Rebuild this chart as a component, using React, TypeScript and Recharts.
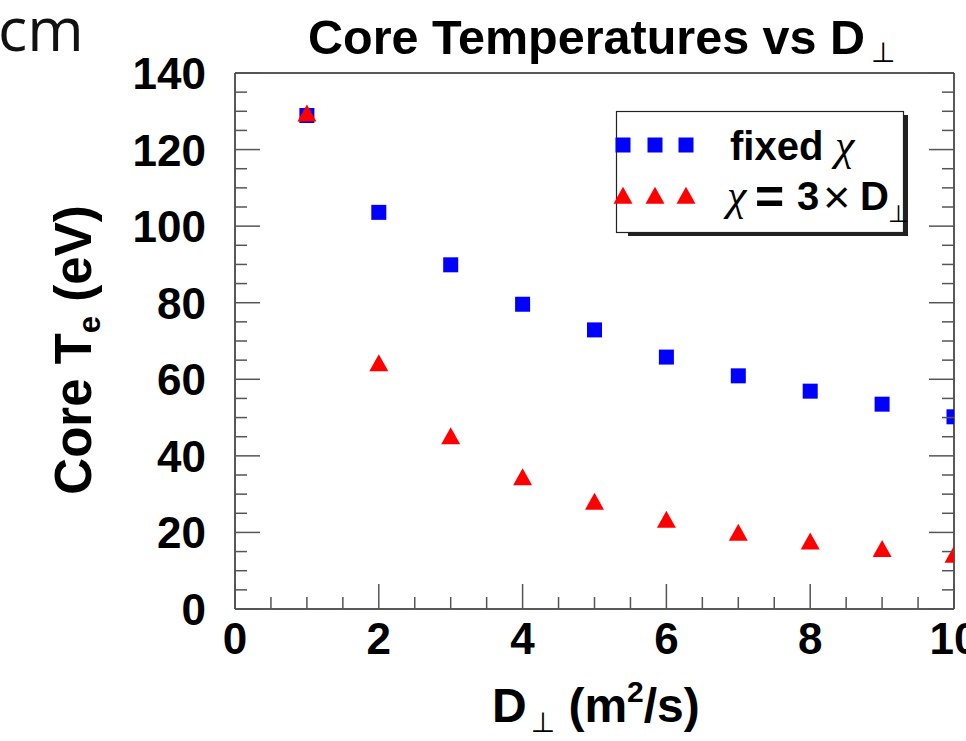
import React from "react"
import { ScatterChart, Scatter, XAxis, YAxis, Legend } from "recharts"

// D_perp scan (m^2/s) and the resulting core electron temperature (eV)
const dPerp = [1, 2, 3, 4, 5, 6, 7, 8, 9, 10]
const teFixedChi = [128.9, 103.6, 89.9, 79.6, 72.9, 65.8, 60.9, 56.9, 53.5, 50.2]
const teScaledChi = [128.8, 63.6, 44.5, 33.8, 27.4, 22.7, 19.3, 17.0, 15.1, 13.6]

const xTicks = [0, 0.5, 1, 1.5, 2, 2.5, 3, 3.5, 4, 4.5, 5, 5.5, 6, 6.5, 7, 7.5, 8, 8.5, 9, 9.5, 10]
const xLabelled = [0, 2, 4, 6, 8, 10]
const yTicks = [0, 5, 10, 15, 20, 25, 30, 35, 40, 45, 50, 55, 60, 65, 70, 75, 80, 85, 90, 95, 100, 105, 110, 115, 120, 125, 130, 135, 140]
const yLabelled = [0, 20, 40, 60, 80, 100, 120, 140]

const fixedData = dPerp.map((d, i) => ({ d, te: teFixedChi[i] }))
const scaledData = dPerp.map((d, i) => ({ d, te: teScaledChi[i] }))

const FONT = "'Liberation Sans', Arial, Helvetica, sans-serif"
const SERIF = "'Liberation Serif', 'Times New Roman', serif"
const SYMBOL = "'DejaVu Sans', sans-serif"
const FRAME = "#222"
const TICK = "#555"
const BLUE = "#0000ff"
const RED = "#ff0000"
const MAJOR = 25
const MINOR = 12

function BottomTick({ x, y, payload }: any) {
  const major = xLabelled.includes(payload.value)
  return (
    <g>
      <line x1={x} x2={x} y1={y} y2={y - (major ? MAJOR : MINOR)} stroke={TICK} strokeWidth={1.5} />
      {major && (
        <text x={x} y={y + 45} textAnchor="middle" fontFamily={FONT} fontWeight="bold" fontSize={44} fill="#000">
          {payload.value}
        </text>
      )}
    </g>
  )
}

function TopTick({ x, y, payload }: any) {
  const major = xLabelled.includes(payload.value)
  return <line x1={x} x2={x} y1={y} y2={y + (major ? MAJOR : MINOR)} stroke={TICK} strokeWidth={1.5} />
}

function LeftTick({ x, y, payload }: any) {
  const major = yLabelled.includes(payload.value)
  return (
    <g>
      <line x1={x} x2={x + (major ? MAJOR : MINOR)} y1={y} y2={y} stroke={TICK} strokeWidth={1.5} />
      {major && (
        <text x={x - 29} y={y + 16} textAnchor="end" fontFamily={FONT} fontWeight="bold" fontSize={44} fill="#000">
          {payload.value}
        </text>
      )}
    </g>
  )
}

function RightTick({ x, y, payload }: any) {
  const major = yLabelled.includes(payload.value)
  return <line x1={x} x2={x - (major ? MAJOR : MINOR)} y1={y} y2={y} stroke={TICK} strokeWidth={1.5} />
}

function SquareMark({ cx, cy }: any) {
  return <rect x={cx - 7.5} y={cy - 7.5} width={15} height={15} fill={BLUE} />
}

function TriangleMark({ cx, cy }: any) {
  return <polygon points={`${cx},${cy - 11.3} ${cx - 9.5},${cy + 5.7} ${cx + 9.5},${cy + 5.7}`} fill={RED} />
}

function ChartTitle({ viewBox }: any) {
  return (
    <text x={viewBox.x + 73} y={54} fontFamily={FONT} fontWeight="bold" fontSize={48.5} fill="#000">
      Core Temperatures vs D
      <tspan dx={6} dy={8} fontSize={28} fontWeight="normal" fontFamily={SYMBOL}>⊥</tspan>
    </text>
  )
}

function XTitle({ viewBox }: any) {
  return (
    <text x={viewBox.x + 257} y={viewBox.y + 113} fontFamily={FONT} fontWeight="bold" fontSize={48} fill="#000">
      D
      <tspan dx={4} dy={10} fontSize={28} fontWeight="normal" fontFamily={SYMBOL}>⊥</tspan>
      <tspan dy={-10}> (m</tspan>
      <tspan dy={-20} fontSize={30}>2</tspan>
      <tspan dy={20}>/s)</tspan>
    </text>
  )
}

function YTitle({ viewBox }: any) {
  const cy = viewBox.y + viewBox.height / 2 + 9
  return (
    <text transform={`translate(91, ${cy}) rotate(-90)`} textAnchor="middle" fontFamily={FONT} fontWeight="bold" fontSize={51} fill="#000">
      Core T
      <tspan dy={9} fontSize={31}>e</tspan>
      <tspan dy={-9}> (eV)</tspan>
    </text>
  )
}

function LegendBox() {
  const markerX = [7, 39, 70]
  return (
    <svg width={296} height={128} style={{ overflow: "visible" }}>
      <rect x={12} y={4} width={280} height={121} fill="#222" />
      <rect x={0.5} y={0.5} width={287} height={121} fill="#fff" stroke={FRAME} strokeWidth={1.2} />
      {markerX.map((mx) => (
        <SquareMark key={`s${mx}`} cx={mx} cy={34} />
      ))}
      {markerX.map((mx) => (
        <TriangleMark key={`t${mx}`} cx={mx} cy={87} />
      ))}
      <text x={114} y={49} fontFamily={FONT} fontWeight="bold" fontSize={40} fill="#000">
        fixed
        <tspan x={219} fontFamily={SERIF} fontStyle="italic" fontWeight="normal" fontSize={44}>χ</tspan>
      </text>
      <text y={99} fontFamily={FONT} fontWeight="bold" fontSize={40} fill="#000">
        <tspan x={111} fontFamily={SERIF} fontStyle="italic" fontWeight="normal" fontSize={44}>χ</tspan>
        <tspan x={139} dy={4} fontSize={50}>=</tspan>
        <tspan x={181} dy={-4}>3</tspan>
        <tspan x={207} dy={3} fontSize={47} fontWeight="normal">×</tspan>
        <tspan x={244} dy={-3}>D</tspan>
        <tspan x={272} dy={12} fontSize={24} fontWeight="normal" fontFamily={SYMBOL}>⊥</tspan>
      </text>
    </svg>
  )
}

export default function App() {
  const frameLine = { stroke: FRAME, strokeWidth: 1.5 }
  return (
    <div style={{ position: "relative", width: 966, height: 741, overflow: "hidden", background: "#fff" }}>
      <style>{`body { margin: 0; }`}</style>
      <svg width={140} height={70} style={{ position: "absolute", left: 0, top: 0 }}>
        <text x={-2} y={51} fontFamily="'Open Sans', 'Noto Sans', sans-serif" fontSize={61} fill="#111">
          cm
        </text>
      </svg>
      <ScatterChart width={966} height={741} margin={{ top: 0, right: 0, bottom: 0, left: 0 }}>
        <XAxis
          xAxisId="bottom"
          type="number"
          dataKey="d"
          domain={[0, 10]}
          ticks={xTicks}
          interval={0}
          tickSize={0}
          tickMargin={0}
          tickLine={false}
          tick={<BottomTick />}
          axisLine={frameLine}
          height={132}
          allowDataOverflow
          label={{ content: XTitle }}
        />
        <XAxis
          xAxisId="top"
          orientation="top"
          type="number"
          domain={[0, 10]}
          ticks={xTicks}
          interval={0}
          tickSize={0}
          tickMargin={0}
          tickLine={false}
          tick={<TopTick />}
          axisLine={frameLine}
          height={73}
          allowDataOverflow
          label={{ content: ChartTitle }}
        />
        <YAxis
          yAxisId="left"
          type="number"
          dataKey="te"
          domain={[0, 140]}
          ticks={yTicks}
          interval={0}
          tickSize={0}
          tickMargin={0}
          tickLine={false}
          tick={<LeftTick />}
          axisLine={frameLine}
          width={235}
          allowDataOverflow
          label={{ content: YTitle }}
        />
        <YAxis
          yAxisId="right"
          orientation="right"
          type="number"
          domain={[0, 140]}
          ticks={yTicks}
          interval={0}
          tickSize={0}
          tickMargin={0}
          tickLine={false}
          tick={<RightTick />}
          axisLine={frameLine}
          width={12}
          allowDataOverflow
        />
        <Legend
          layout="horizontal"
          verticalAlign="middle"
          align="center"
          wrapperStyle={{ left: 616, top: 111, width: 296, height: 128 }}
          content={LegendBox}
        />
        <Scatter
          name="fixed χ"
          xAxisId="bottom"
          yAxisId="left"
          data={fixedData}
          fill={BLUE}
          shape={SquareMark}
          isAnimationActive={false}
        />
        <Scatter
          name="χ=3×D⊥"
          xAxisId="bottom"
          yAxisId="left"
          data={scaledData}
          fill={RED}
          shape={TriangleMark}
          isAnimationActive={false}
        />
      </ScatterChart>
    </div>
  )
}
